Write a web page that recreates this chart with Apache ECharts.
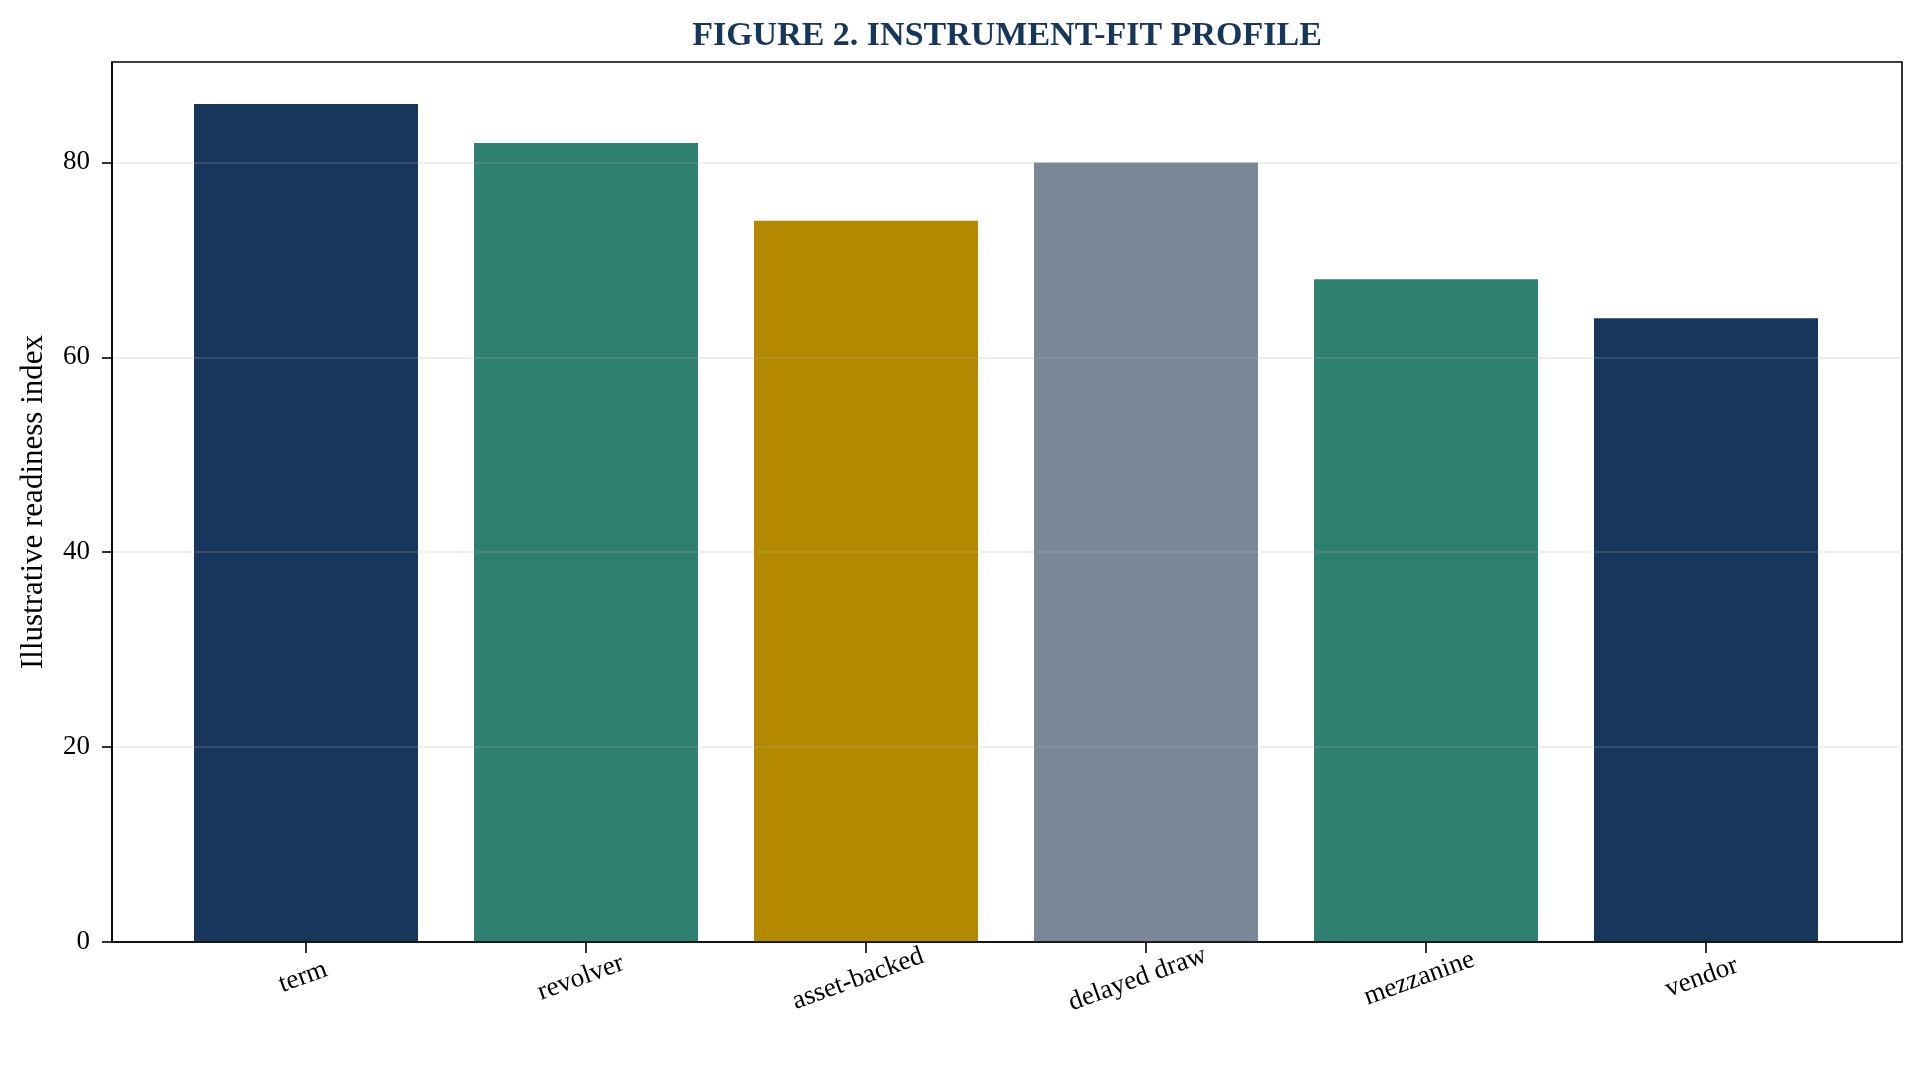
<!DOCTYPE html>
<html lang="en">
<head>
    <meta charset="UTF-8">
    <title>Figure 2. Instrument-fit profile</title>
    <script src="https://cdn.jsdelivr.net/npm/echarts@6/dist/echarts.min.js"></script>
    <style type="text/css">
    html, body { margin: 0; padding: 0; background: #ffffff; }
    #chart { width: 1924px; height: 1067px; }
    </style>
</head>
<body>
<div id="chart"></div>
<script type="text/javascript">
    // data
    var instruments = ['term', 'revolver', 'asset-backed', 'delayed draw', 'mezzanine', 'vendor'];
    var readiness = [86, 82, 74, 80, 68, 64];
    var barColors = ['#17365c', '#2e8070', '#b38900', '#7a8796', '#2e8070', '#17365c'];
    var yTicks = [0, 20, 40, 60, 80];

    var serif = "'Liberation Serif', 'Times New Roman', serif";
    var labelSize = 27;
    var rot = 20 * Math.PI / 180;

    // matplotlib keeps the top of a rotated label at a fixed gap, so longer
    // labels sit lower; shift each one down by about half its rotated rise
    var ctx = document.createElement('canvas').getContext('2d');
    ctx.font = labelSize + 'px ' + serif;
    var catData = instruments.map(function (name) {
        var d = 1.05 * ctx.measureText(name).width * Math.sin(rot) / 2;
        return {
            value: name,
            textStyle: {
                align: 'center',
                verticalAlign: 'middle',
                padding: [2 * d * Math.cos(rot), 2 * d * Math.sin(rot), 0, 0]
            }
        };
    });

    var myChart = echarts.init(document.getElementById('chart'));
    var option = {
      animation: false,
      backgroundColor: '#ffffff',
      textStyle: { fontFamily: serif },
      graphic: [{
        type: 'text',
        x: 1007,
        y: 36,
        style: {
          text: 'FIGURE 2. INSTRUMENT-FIT PROFILE',
          font: 'bold 34px ' + serif,
          fill: '#17365c',
          align: 'center',
          verticalAlign: 'middle'
        }
      }],
      grid: [
        { left: 112, right: 22, top: 62, bottom: 125, show: true,
          borderColor: '#000', borderWidth: 1.6, backgroundColor: 'transparent' },
        { left: 166, right: 78, top: 62, bottom: 125 }
      ],
      xAxis: [
        {
          gridIndex: 0, type: 'value', min: 0, max: 1, z: 4,
          axisLine: { show: true, lineStyle: { color: '#000', width: 1.6 } },
          axisTick: { show: false },
          axisLabel: { show: false },
          splitLine: { show: false }
        },
        {
          gridIndex: 1, type: 'category', data: catData,
          axisLine: { show: false },
          axisTick: { show: true, alignWithLabel: true, length: 11,
                      lineStyle: { color: '#000', width: 1.6 } },
          axisLabel: {
            interval: 0, rotate: 20, margin: 34,
            align: 'center', verticalAlign: 'middle',
            fontFamily: serif, fontSize: labelSize, color: '#000'
          },
          splitLine: { show: false }
        }
      ],
      yAxis: [
        {
          gridIndex: 0, type: 'value', min: 0, max: 90.3, interval: 20, z: 3,
          name: 'Illustrative readiness index',
          nameLocation: 'middle', nameGap: 63,
          nameTextStyle: { fontFamily: serif, fontSize: 31, color: '#000' },
          axisLine: { show: true, lineStyle: { color: '#000', width: 1.6 } },
          axisTick: { show: true, length: 10, customValues: yTicks,
                      lineStyle: { color: '#000', width: 1.6 } },
          axisLabel: { margin: 22, customValues: yTicks,
                       fontFamily: serif, fontSize: labelSize, color: '#000' },
          splitLine: { show: true, lineStyle: { color: 'rgba(176,176,176,0.28)', width: 1.6 } }
        },
        {
          gridIndex: 1, type: 'value', min: 0, max: 90.3, show: false,
          splitLine: { show: false }
        }
      ],
      series: [{
        type: 'bar',
        xAxisIndex: 1,
        yAxisIndex: 1,
        barWidth: '80%',
        data: readiness.map(function (v, i) {
          return { value: v, itemStyle: { color: barColors[i] } };
        })
      }]
    };
    myChart.setOption(option);
</script>
</body>
</html>
